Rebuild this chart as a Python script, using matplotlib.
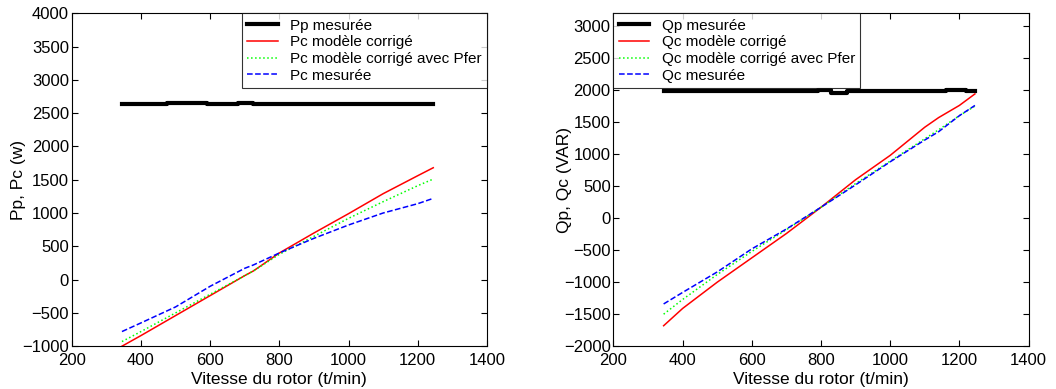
import matplotlib.pyplot as plt

plt.rcParams['font.family'] = ['Liberation Sans', 'DejaVu Sans']

# vitesse du rotor (t/min)
vitesse = [345, 400, 500, 600, 700, 725, 800, 900, 1000, 1100, 1200, 1245]

# puissance active
vitesse_pp = [345, 475, 475, 590, 590, 680, 680, 725, 725, 1245]
pp_mes = [2630, 2630, 2650, 2650, 2630, 2630, 2650, 2650, 2630, 2630]
pc_mod = [-1000, -840, -540, -240, 60, 130, 400, 700, 990, 1290, 1560, 1680]
pc_fer = [-930, -780, -500, -220, 60, 130, 380, 650, 920, 1170, 1410, 1510]
pc_mes = [-780, -650, -410, -100, 170, 220, 400, 620, 820, 1000, 1140, 1220]

# puissance reactive
vitesse_q = [345, 400, 500, 600, 700, 800, 900, 1000, 1100, 1140, 1200, 1245]
vitesse_qp = [345, 790, 790, 830, 830, 875, 875, 1160, 1160, 1220, 1220, 1245]
qp_mes = [1980, 1980, 2000, 2000, 1960, 1960, 1980, 1980, 2000, 2000, 1980, 1980]
qc_mod = [-1680, -1410, -1000, -620, -240, 170, 600, 980, 1420, 1570, 1760, 1940]
qc_fer = [-1500, -1270, -880, -520, -180, 170, 540, 890, 1240, 1380, 1600, 1750]
qc_mes = [-1340, -1160, -840, -480, -170, 170, 520, 880, 1220, 1350, 1600, 1760]

fig, (ax1, ax2) = plt.subplots(1, 2, figsize=(10.56, 3.89), dpi=100)
fig.subplots_adjust(left=0.068, right=0.974, bottom=0.11, top=0.966, wspace=0.305)

leg_kw = dict(fontsize=11, frameon=True, fancybox=False, edgecolor='black',
              borderaxespad=0, handlelength=2.0, handletextpad=0.8,
              labelspacing=0.18, borderpad=0.35)

ax1.plot(vitesse_pp, pp_mes, color='black', lw=3, label='Pp mesurée')
ax1.plot(vitesse, pc_mod, color='red', lw=1.1, label='Pc modèle corrigé')
ax1.plot(vitesse, pc_fer, color='#00ff00', lw=1.1, ls=':', label='Pc modèle corrigé avec Pfer')
ax1.plot(vitesse, pc_mes, color='blue', lw=1.1, ls='--', label='Pc mesurée')
ax1.set_xlim(200, 1400)
ax1.set_ylim(-1000, 4000)
ax1.set_yticks(range(-1000, 4001, 500))
ax1.set_xlabel('Vitesse du rotor (t/min)', fontsize=12.5, labelpad=3)
ax1.set_ylabel('Pp, Pc (w)', fontsize=12.5, labelpad=-3)
ax1.legend(loc='upper right', **leg_kw)

ax2.plot(vitesse_qp, qp_mes, color='black', lw=3, label='Qp mesurée')
ax2.plot(vitesse_q, qc_mod, color='red', lw=1.1, label='Qc modèle corrigé')
ax2.plot(vitesse_q, qc_fer, color='#00ff00', lw=1.1, ls=':', label='Qc modèle corrigé avec Pfer')
ax2.plot(vitesse_q, qc_mes, color='blue', lw=1.1, ls='--', label='Qc mesurée')
ax2.set_xlim(200, 1400)
ax2.set_ylim(-2000, 3200)
ax2.set_yticks(range(-2000, 3001, 500))
ax2.set_xlabel('Vitesse du rotor (t/min)', fontsize=12.5, labelpad=3)
ax2.set_ylabel('Qp, Qc (VAR)', fontsize=12.5, labelpad=-6)
ax2.legend(loc='upper left', **leg_kw)

for ax in (ax1, ax2):
    ax.tick_params(direction='in', top=True, right=True, labelsize=12, length=4)
    ax.tick_params(axis='x', pad=5)
    ax.tick_params(axis='y', pad=2)
    for s in ax.spines.values():
        s.set_linewidth(0.8)
    ax.legend_.get_frame().set_linewidth(0.8)

fig.savefig('out.png', dpi=100)
